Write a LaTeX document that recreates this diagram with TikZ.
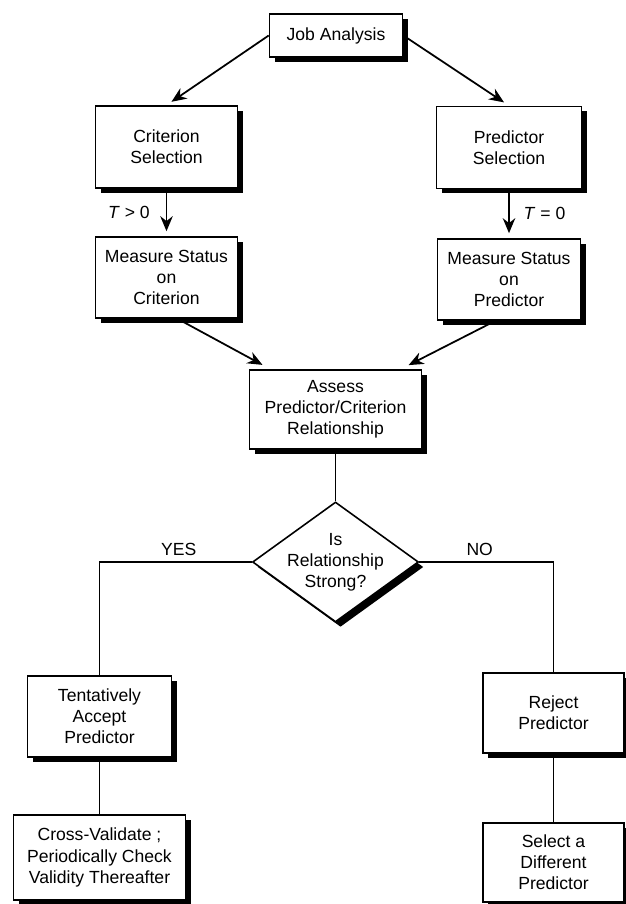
\documentclass[tikz,border=0pt]{standalone}
\usepackage{fontspec}
\setmainfont{Liberation Sans}
\usetikzlibrary{positioning, arrows.meta, calc, shadows, shapes.geometric}

\begin{document}
\begin{tikzpicture}[
    every node/.style={font=\fontsize{10}{12}\selectfont},
    box/.style={draw, line width=0.9pt, fill=white, align=center, inner sep=0pt,
        drop shadow={shadow xshift=0.1cm, shadow yshift=-0.1cm, fill=black, opacity=1}},
    decision/.style={box, shape=diamond, aspect=1.5, inner sep=-0.2cm,
        minimum width=3.32cm, minimum height=2.4cm},
    arr/.style={line width=1pt, -{Stealth[length=3mm, width=2.5mm]}, shorten >=0.12cm},
    link/.style={line width=0.9pt}
]
    \useasboundingbox (0,0) rectangle (12.5,18.08);

    % ---------------- TOP: SELECTION ----------------
    \node[box, minimum width=2.66cm, minimum height=0.86cm] (ja) at (6.72,17.37) {Job Analysis};
    \node[box, minimum width=2.84cm, minimum height=1.64cm] (crit) at (3.33,15.14) {Criterion\\Selection};
    \node[box, minimum width=2.90cm, minimum height=1.64cm] (pred) at (10.18,15.13) {Predictor\\Selection};

    \node[box, minimum width=2.84cm, minimum height=1.62cm] (mcrit) at (3.33,12.53) {Measure Status\\on\\Criterion};
    \node[box, minimum width=2.86cm, minimum height=1.62cm] (mpred) at (10.18,12.49) {Measure Status\\on\\Predictor};

    \node[box, minimum width=3.44cm, minimum height=1.58cm] (assess) at (6.71,9.89) {Assess\\Predictor/Criterion\\Relationship};

    % ---------------- DECISION ----------------
    \node[decision] (dec) at (6.71,6.84) {Is\\Relationship\\Strong?};

    % ---------------- BOTTOM: OUTCOMES ----------------
    \node[box, minimum width=2.88cm, minimum height=1.62cm] (acc) at (1.99,3.75) {Tentatively\\Accept\\Predictor};
    \node[box, minimum width=3.44cm, minimum height=1.70cm] (xval) at (1.99,0.93) {Cross-Validate ;\\Periodically Check\\Validity Thereafter};
    \node[box, minimum width=2.82cm, minimum height=1.60cm] (rej) at (11.07,3.82) {Reject\\Predictor};
    \node[box, minimum width=2.82cm, minimum height=1.58cm] (sel) at (11.07,0.83) {Select a\\Different\\Predictor};

    % Connectors
    \draw[arr] (ja.west) -- (crit.north);
    \draw[arr] (ja.east) -- (pred.north);
    \draw[arr, shorten >=0.1cm] (crit) -- (mcrit) node[midway, left, xshift=-0.2cm] {\textit{T} > 0};
    \draw[arr, shorten >=0.1cm] (pred) -- (mpred) node[midway, right, xshift=0.16cm] {\textit{T} = 0};
    \draw[arr, shorten >=0.18cm] ($(mcrit.south)+(0.22,0)$) -- ($(assess.north west)!0.25!(assess.north)$);
    \draw[arr, shorten >=0.18cm] ($(mpred.south)+(-0.27,0)$) -- ($(assess.north east)!0.25!(assess.north)$);
    \draw[link] (assess) -- (dec);
    \draw[link] (dec.west) -| node[pos=0.24, above] {YES} (acc.north); % yes branch
    \draw[link] (dec.east) -| node[pos=0.225, above] {NO} (rej.north); % no branch
    \draw[link] (acc) -- (xval);
    \draw[link] (rej) -- (sel);
\end{tikzpicture}
\end{document}
